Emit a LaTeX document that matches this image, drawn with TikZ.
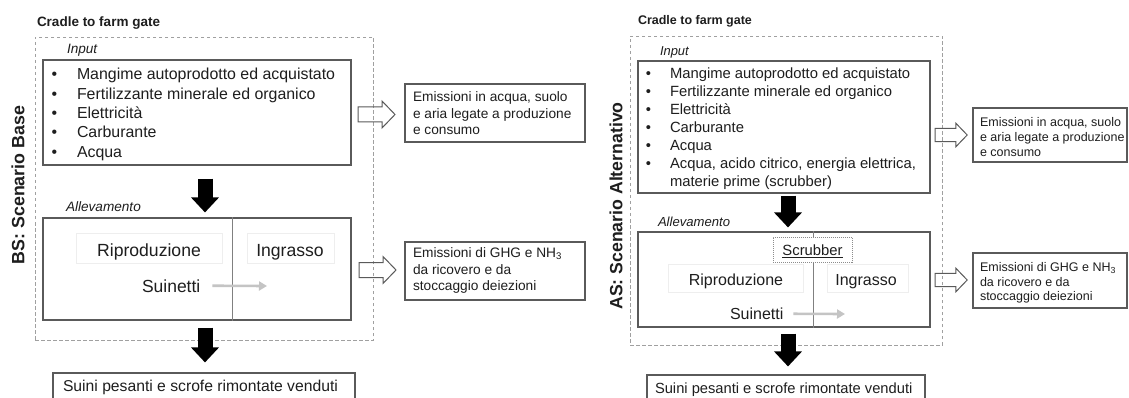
\documentclass[tikz,border=0pt]{standalone}
\usepackage{fontspec}
\setmainfont{Liberation Sans}
\usetikzlibrary{arrows.meta,calc}
\definecolor{txtc}{HTML}{1E1E1E}
\definecolor{boxc}{HTML}{5A5A5A}
\definecolor{divc}{HTML}{808080}
\definecolor{framec}{HTML}{A0A0A0}
\definecolor{faintc}{HTML}{EEEEEE}
\definecolor{grayar}{HTML}{C4C4C4}
\definecolor{scrc}{HTML}{8C8C8C}
\newcommand{\fs}[1]{\fontsize{#1}{#1}\selectfont}
\tikzset{
 box/.style={draw=boxc, line width=1.1pt, inner sep=0pt},
 divline/.style={draw=divc, line width=0.8pt},
 frame/.style={draw=framec, line width=0.9pt, dash pattern=on 3.5pt off 2.5pt, inner sep=0pt},
 faint/.style={draw=faintc, line width=0.7pt, inner sep=0pt},
 scrbox/.style={draw=scrc, fill=white, line width=0.7pt, dash pattern=on 1pt off 1pt, inner sep=0pt},
 txt/.style={inner sep=0pt, outer sep=0pt, text=txtc, anchor=base west},
 ctxt/.style={inner sep=0pt, outer sep=0pt, text=txtc, anchor=base},
 bigarrow/.style={line width=15pt, draw=black, -{Triangle[width=27pt,length=15pt]}},
 grayarrow/.style={line width=2.6pt, draw=grayar, -{Triangle[width=9pt,length=8pt]}},
 hollow/.style={draw=boxc, line width=1pt},
 harrow/.pic={\path[hollow] (0,-7.5) -- (24,-7.5) -- (24,-13.5) -- (37,0) -- (24,13.5) -- (24,7.5) -- (0,7.5) -- cycle;},
}
\begin{document}
\begin{tikzpicture}[x=1pt,y=-1pt]
\path[use as bounding box, clip] (0,0) rectangle (1129,398);
\fill[white] (0,0) rectangle (1129,398);
\coordinate (dL) at (232,0);
\coordinate (dR) at (813,0);
% ================= LEFT PANEL =================
\node[txt, font=\bfseries\fs{13.5}] (ttlL) at (37,26.5) {Cradle to farm gate};
\node[frame, minimum width=338pt, minimum height=303pt] (frL) at (204,188.5) {};
\node[inner sep=0pt, text=txtc, rotate=90, font=\bfseries\fs{17.8}] (bsL) at (18,185) {BS: Scenario Base};
\node[txt, font=\itshape\fs{13.6}] (inlabL) at (67,53.5) {Input};
\node[box, minimum width=308pt, minimum height=105pt] (inL) at (197,112.5) {};
\foreach \t [count=\i] in {Mangime autoprodotto ed acquistato, Fertilizzante minerale ed organico, Elettricità, Carburante, Acqua}{
  \node[txt, font=\fs{15.9}] (inL-\i) at (77,{80+19.3*(\i-1)}) {\t};
  \node[ctxt, font=\fs{15.9}] (bL-\i) at (54.5,{80+19.3*(\i-1)}) {•};
}
\node[txt, font=\itshape\fs{13.6}] (allabL) at (66,211.5) {Allevamento};
\node[box, minimum width=308pt, minimum height=102pt] (alleL) at (197,269) {};
\draw[divline] (alleL.north -| dL) -- (alleL.south -| dL);
\node[faint, minimum width=146pt, minimum height=30pt] (frepL) at (149,248) {};
\node[faint, minimum width=87pt, minimum height=30pt] (fingL) at (290.5,248) {};
\node[ctxt, font=\fs{17.6}] (ripL) at (149,256) {Riproduzione};
\node[ctxt, font=\fs{17.6}] (ingL) at (290,256) {Ingrasso};
\node[txt, font=\fs{17.5}] (suiL) at (142,292) {Suinetti};
\coordinate (gL) at (267,286);
\draw[grayarrow] ([xshift=12pt]suiL.east) -- (gL);
\node[box, minimum width=302pt, minimum height=39pt] (outL) at (204,392.5) {};
\node[txt, font=\fs{15.7}] (outLt) at (63,391) {Suini pesanti e scrofe rimontate venduti};
\draw[bigarrow] ($(inL.south)+(8,13)$) -- ($(alleL.north)+(8,-5)$);
\draw[bigarrow] ($(alleL.south)+(8,7)$) -- ($(outL.north)+(1,-10)$);
\pic at (358,114.5) {harrow};
\pic at (359,270) {harrow};
\node[box, minimum width=180pt, minimum height=58pt] (emL1) at (495,113) {};
\foreach \t [count=\i] in {{Emissioni in acqua, suolo}, e aria legate a produzione, e consumo}{
  \node[txt, font=\fs{13.7}] (emL1-\i) at (413,{101.7+16.65*(\i-1)}) {\t};
}
\node[box, minimum width=180pt, minimum height=58pt] (emL2) at (495,271) {};
\foreach \t [count=\i] in {Emissioni di GHG e NH\textsubscript{3}, da ricovero e da, stoccaggio deiezioni}{
  \node[txt, font=\fs{13.7}] (emL2-\i) at (413,{257.5+16.5*(\i-1)}) {\t};
}
% ================= RIGHT PANEL =================
\node[txt, font=\bfseries\fs{12.5}] (ttlR) at (638,24.5) {Cradle to farm gate};
\node[frame, minimum width=312pt, minimum height=309pt] (frR) at (786,190.5) {};
\node[inner sep=0pt, text=txtc, rotate=90, font=\bfseries\fs{17.7}] (asR) at (616,206) {AS: Scenario Alternativo};
\node[txt, font=\itshape\fs{12.9}] (inlabR) at (660,56) {Input};
\node[box, minimum width=292pt, minimum height=132pt] (inR) at (784,127) {};
\foreach \t [count=\i] in {Mangime autoprodotto ed acquistato, Fertilizzante minerale ed organico, Elettricità, Carburante, Acqua, {Acqua, acido citrico, energia elettrica,}}{
  \node[txt, font=\fs{14.8}] (inR-\i) at (670,{79+17.9*(\i-1)}) {\t};
  \node[ctxt, font=\fs{14.8}] (bR-\i) at (648.5,{79+17.9*(\i-1)}) {•};
}
\node[txt, font=\fs{14.8}] (inR-7) at (670,{79+17.9*6}) {materie prime (scrubber)};
\node[txt, font=\itshape\fs{13.1}] (allabR) at (658,226.5) {Allevamento};
\node[box, minimum width=292pt, minimum height=95pt] (alleR) at (784,279.5) {};
\draw[divline] (alleR.north -| dR) -- (alleR.south -| dR);
\node[scrbox, minimum width=79pt, minimum height=25pt] (scrR) at (812.5,249.5) {};
\node[ctxt, font=\fs{14.8}] (scrT) at (812.5,255) {Scrubber};
\draw[txtc, line width=0.9pt] ($(scrT.base west)+(0,2.2)$) -- ($(scrT.base east)+(0,2.2)$);
\node[faint, minimum width=135pt, minimum height=28pt] (frepR) at (735.5,278) {};
\node[faint, minimum width=81pt, minimum height=28pt] (fingR) at (867.5,278) {};
\node[ctxt, font=\fs{16}] (ripR) at (736,285) {Riproduzione};
\node[ctxt, font=\fs{16}] (ingR) at (866,285) {Ingrasso};
\node[txt, font=\fs{16}] (suiR) at (730,319.5) {Suinetti};
\coordinate (gR) at (845,314);
\draw[grayarrow] ([xshift=10pt]suiR.east) -- (gR);
\node[box, minimum width=278pt, minimum height=37pt] (outR) at (786,393.5) {};
\node[txt, font=\fs{14.7}] (outRt) at (655,393) {Suini pesanti e scrofe rimontate venduti};
\draw[bigarrow] ($(inR.south)+(4,2)$) -- ($(alleR.north)+(4,-4)$);
\draw[bigarrow] ($(alleR.south)+(4,6)$) -- ($(outR.north)+(2,-8)$);
\pic[scale=0.87] at (935,135) {harrow};
\pic[scale=0.87] at (935,280) {harrow};
\node[box, minimum width=154pt, minimum height=54pt] (emR1) at (1050,135) {};
\foreach \t [count=\i] in {{Emissioni in acqua, suolo}, e aria legate a produzione, e consumo}{
  \node[txt, font=\fs{12.5}] (emR1-\i) at (980,{126.5+14.8*(\i-1)}) {\t};
}
\node[box, minimum width=154pt, minimum height=55pt] (emR2) at (1050,280.5) {};
\foreach \t [count=\i] in {Emissioni di GHG e NH\textsubscript{3}, da ricovero e da, stoccaggio deiezioni}{
  \node[txt, font=\fs{12.5}] (emR2-\i) at (980,{271.5+14.5*(\i-1)}) {\t};
}
\end{tikzpicture}
\end{document}
